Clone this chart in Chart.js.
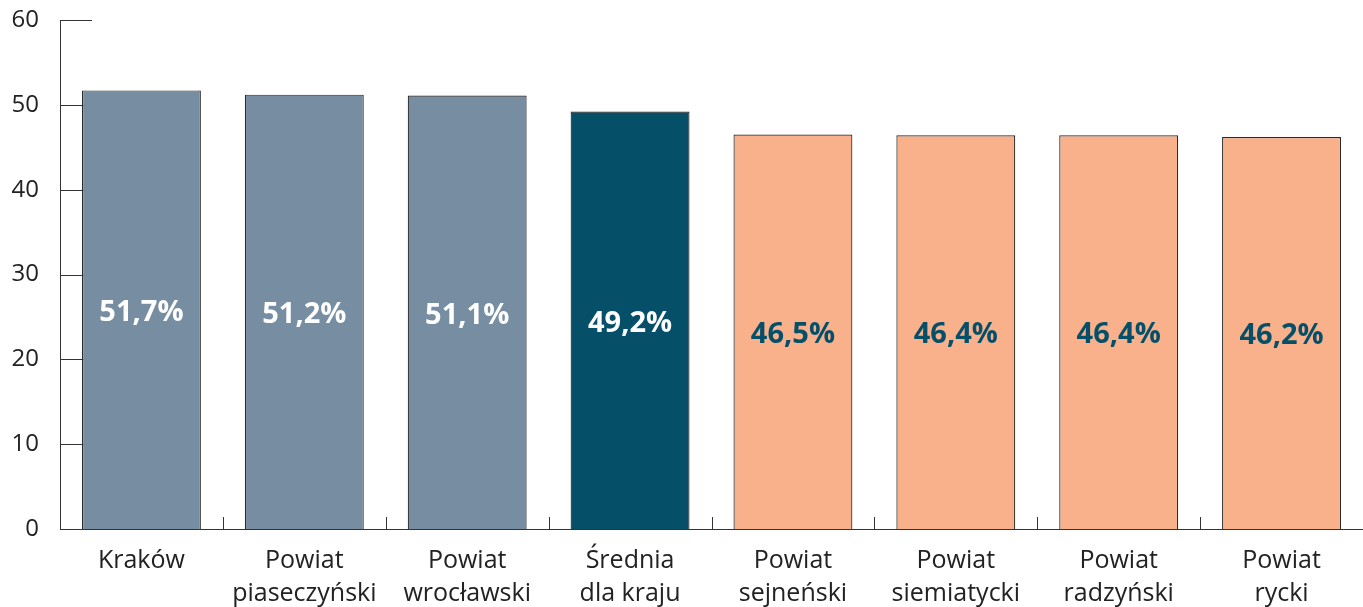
<!DOCTYPE html>
<html><head><meta charset="utf-8">
<script src="https://cdn.jsdelivr.net/npm/chart.js@4/dist/chart.umd.min.js"></script>
<style>html,body{margin:0;padding:0;background:#fff}#wrap{width:1363px;height:607px}</style>
</head><body><div id="wrap"><canvas id="c"></canvas></div>
<script>
const categories = [["Kraków"],["Powiat","piaseczyński"],["Powiat","wrocławski"],["Średnia","dla kraju"],["Powiat","sejneński"],["Powiat","siemiatycki"],["Powiat","radzyński"],["Powiat","rycki"]];
const values = [51.7, 51.2, 51.1, 49.2, 46.5, 46.4, 46.4, 46.2];
const valueLabels = ["51,7%","51,2%","51,1%","49,2%","46,5%","46,4%","46,4%","46,2%"];
const barColors = ["#778da2","#778da2","#778da2","#054f69","#f8b18b","#f8b18b","#f8b18b","#f8b18b"];
const labelColors = ["#ffffff","#ffffff","#ffffff","#ffffff","#054f69","#054f69","#054f69","#054f69"];
const yTicks = [0,10,20,30,40,50,60];

const tickPlugin = {
  id:'ticks2',
  beforeDatasetsDraw(chart){
    const ctx = chart.ctx, x = chart.scales.x, y = chart.scales.y;
    ctx.save();
    ctx.strokeStyle = '#333'; ctx.lineWidth = 1;
    yTicks.forEach(v=>{
      const py = Math.round(y.getPixelForValue(v))+0.5;
      ctx.beginPath(); ctx.moveTo(x.left, py); ctx.lineTo(x.left+32, py); ctx.stroke();
    });
    for(let i=1;i<categories.length;i++){
      const px = Math.round((x.getPixelForValue(i-1)+x.getPixelForValue(i))/2)+0.5;
      ctx.beginPath(); ctx.moveTo(px, y.bottom); ctx.lineTo(px, y.bottom-12); ctx.stroke();
    }
    ctx.restore();
  },
  afterDatasetsDraw(chart){
    const ctx = chart.ctx, meta = chart.getDatasetMeta(0);
    ctx.save();
    ctx.font = 'bold 29px "Open Sans", sans-serif';
    ctx.textAlign = 'center'; ctx.textBaseline = 'middle';
    meta.data.forEach((bar,i)=>{
      ctx.fillStyle = labelColors[i];
      ctx.fillText(valueLabels[i], bar.x, (bar.y+bar.base)/2 + 3);
    });
    ctx.restore();
  }
};

new Chart(document.getElementById('c'), {
  type:'bar',
  data:{labels:categories, datasets:[{data:values, backgroundColor:barColors, borderColor:'#2a2a2a', borderWidth:1.2, categoryPercentage:1, barPercentage:0.73}]},
  options:{
    responsive:true, maintainAspectRatio:false, animation:false,
    layout:{padding:{top:20,right:0,left:0,bottom:0}},
    plugins:{legend:{display:false}, tooltip:{enabled:false}},
    scales:{
      y:{min:0,max:60,
        afterFit(s){s.width=60; s.paddingTop=0; s.paddingBottom=0;},
        afterBuildTicks(s){s.ticks = yTicks.map(v=>({value:v}));},
        grid:{display:false, drawTicks:false},
        border:{display:true,color:'#333',width:1},
        ticks:{padding:21,color:'#222',font:{family:'"Open Sans", sans-serif',size:24}}
      },
      x:{
        afterFit(s){s.height=78; s.paddingLeft=0; s.paddingRight=0;},
        grid:{display:false, drawTicks:false},
        border:{display:true,color:'#333',width:1},
        ticks:{padding:15,color:'#222',maxRotation:0,autoSkip:false,font:{family:'"Open Sans", sans-serif',size:25,lineHeight:1.34}}
      }
    }
  },
  plugins:[tickPlugin]
});
</script></body></html>
